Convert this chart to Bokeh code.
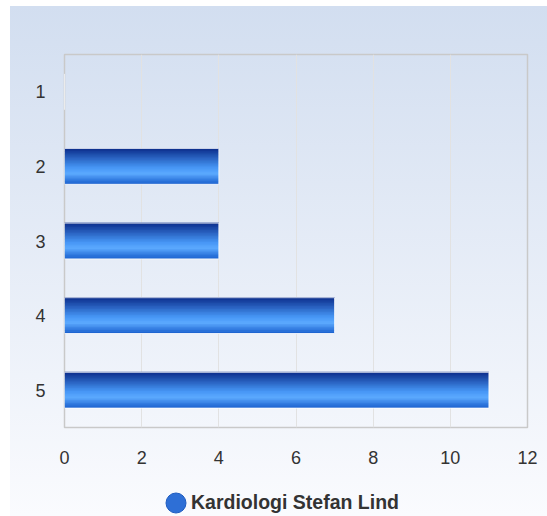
from bokeh.plotting import figure
from bokeh.layouts import column
from bokeh.models import FactorRange, Legend, LegendItem, ColumnDataSource, FixedTicker
from bokeh.transform import dodge
from bokeh.embed import file_html
from bokeh.resources import INLINE

categories = ["1", "2", "3", "4", "5"]
values = [0, 4, 4, 7, 11]
series_name = "Kardiologi Stefan Lind"
x_ticks = [0, 2, 4, 6, 8, 10, 12]

src = ColumnDataSource(dict(cat=categories, val=values))

p = figure(width=547, height=476, output_backend="svg", toolbar_location=None,
           y_range=FactorRange(factors=list(reversed(categories))),
           x_range=(0, 12),
           min_border_left=64, min_border_right=20, min_border_top=54, min_border_bottom=49)
p.border_fill_color = None
p.background_fill_color = None
p.outline_line_color = "#c9c9c9"
p.outline_line_width = 1.5

# gradient strips for bars (style only)
stops = [(0.0, (10, 42, 136)), (0.55, (70, 150, 245)), (0.72, (92, 170, 255)), (1.0, (25, 95, 205))]
def col(t):
    for (t0, c0), (t1, c1) in zip(stops[:-1], stops[1:]):
        if t0 <= t <= t1:
            f = (t - t0) / (t1 - t0)
            return "#%02x%02x%02x" % tuple(int(round(a + (b - a) * f)) for a, b in zip(c0, c1))
    return "#%02x%02x%02x" % stops[-1][1]

bar_h = 0.48
n = 24
sh = bar_h / n
for k in range(n):
    t = (k + 0.5) / n
    off = bar_h / 2 - (k + 0.5) * sh
    h = sh * 1.8 if k < n - 1 else sh
    p.hbar(y=dodge("cat", off, range=p.y_range), left=0, right="val", height=h,
           source=src, fill_color=col(t), line_color=None)

bars = p.hbar(y="cat", left=0, right="val", height=bar_h, source=src,
              fill_color=None, line_color="white", line_alpha=0.8, line_width=1)

p.xgrid.grid_line_color = "#e2e2e2"
p.ygrid.grid_line_color = None
p.xaxis.ticker = FixedTicker(ticks=x_ticks)

for ax in (p.xaxis, p.yaxis):
    ax.axis_line_color = None
    ax.major_tick_line_color = None
    ax.minor_tick_line_color = None
    ax.major_tick_out = 0
    ax.major_tick_in = 0
    ax.major_label_text_font = "Liberation Sans"
    ax.major_label_text_font_size = "18px"
    ax.major_label_text_color = "#333333"
p.xaxis.major_label_standoff = 23
p.yaxis.major_label_standoff = 19

# legend strip below the chart
lf = figure(width=547, height=40, output_backend="svg", toolbar_location=None,
            x_range=(0, 1), y_range=(0, 1),
            min_border_left=0, min_border_right=0, min_border_top=0, min_border_bottom=0)
lf.axis.visible = False
lf.grid.visible = False
lf.outline_line_color = None
lf.border_fill_color = None
lf.background_fill_color = None
leg_src = ColumnDataSource(dict(x=[-10], y=[-10]))
c1 = lf.ellipse("x", "y", width=20, height=20, width_units="screen", height_units="screen",
                source=leg_src, fill_color="#2e6fd6", line_color="#1f5cc0")
legend = Legend(items=[LegendItem(label=series_name, renderers=[c1])],
                orientation="horizontal", location=(99, 1),
                label_text_font="Liberation Sans", label_text_font_size="19.5px",
                label_text_font_style="bold", label_text_color="#333333",
                glyph_width=25, glyph_height=25, label_height=25, border_line_color=None,
                background_fill_alpha=0, margin=0, padding=0, label_standoff=3)
lf.add_layout(legend, "center")

layout = column(p, lf, spacing=0)
layout.styles = {"background-color": "white",
                 "background-image": "linear-gradient(to bottom, #d2def0, #fafbfe)",
                 "background-position": "10px 6px",
                 "background-size": "calc(100% - 10px) calc(100% - 6px)",
                 "background-repeat": "no-repeat"}

open("out.html", "w").write(file_html(layout, INLINE))
